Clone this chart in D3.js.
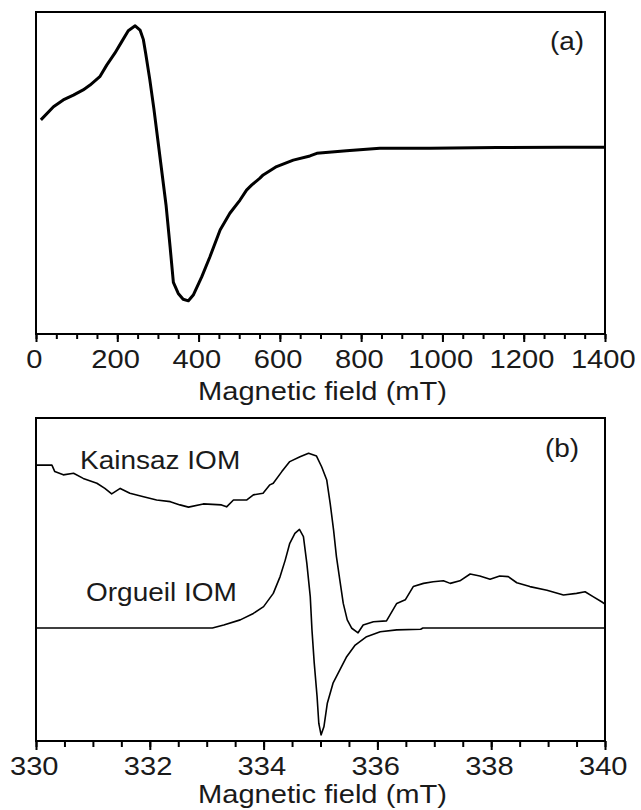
<!DOCTYPE html>
<html>
<head>
<meta charset="utf-8">
<script src="https://cdn.jsdelivr.net/npm/d3@7"></script>
<style>
  body { margin: 0; background: #fff; }
  svg { display: block; }
  text { font-family: "Liberation Sans", Arial, sans-serif; fill: #1a1a1a; }
</style>
</head>
<body>
<div id="svgOutput"></div>
<script>
// Panel (a): broad scan, field in mT, signal in arbitrary units
const fieldA = [12, 43, 67, 92, 116, 133, 157, 174, 194, 211, 227, 244, 256, 264, 270, 280, 290, 300, 310, 320, 330, 338, 350, 362, 375, 387, 408, 428, 453, 477, 502, 518, 531, 551, 559, 592, 633, 674, 691, 764, 846, 969, 1134, 1298, 1400];
const signalA = [66.5, 70.6, 72.7, 74.2, 75.8, 77.3, 79.9, 83.5, 87.2, 90.8, 94.2, 95.7, 94.4, 91.5, 87, 79, 70, 60, 50, 40, 27, 16, 12.6, 10.8, 10.3, 12.1, 17.8, 24.0, 32.3, 37.5, 41.6, 44.7, 46.3, 48.4, 49.4, 52.0, 54.0, 55.3, 56.1, 56.9, 57.7, 57.7, 57.9, 58.0, 58.0];

// Panel (b): narrow scan, two samples
const fieldKainsaz = [330.0, 330.28, 330.33, 330.48, 330.66, 330.83, 331.07, 331.21, 331.33, 331.48, 331.65, 331.89, 332.12, 332.36, 332.53, 332.68, 332.94, 333.26, 333.35, 333.47, 333.70, 333.82, 333.99, 334.11, 334.17, 334.32, 334.46, 334.64, 334.79, 334.93, 335.02, 335.11, 335.17, 335.23, 335.28, 335.34, 335.40, 335.47, 335.55, 335.66, 335.75, 335.93, 336.16, 336.34, 336.49, 336.63, 336.81, 336.98, 337.16, 337.28, 337.45, 337.63, 337.80, 337.98, 338.15, 338.30, 338.45, 338.68, 338.98, 339.27, 339.50, 339.65, 339.79, 339.94, 340.0];
const signalKainsaz = [85.4, 85.4, 83.4, 82.4, 82.9, 81.3, 79.8, 78.2, 76.5, 78.2, 76.7, 75.6, 74.6, 74.1, 73.1, 72.4, 73.4, 73.1, 72.5, 74.6, 74.6, 76.2, 76.7, 79.3, 79.8, 83.4, 86.5, 88.0, 89.1, 88.2, 84.9, 80.8, 73.6, 65.3, 57.1, 49.8, 42.6, 37.5, 34.9, 33.5, 35.9, 36.9, 37.2, 42.6, 43.7, 47.8, 48.8, 49.3, 49.6, 48.8, 49.6, 51.7, 51.1, 50.1, 51.1, 50.9, 49.0, 47.8, 46.7, 45.2, 45.7, 46.2, 44.7, 43.1, 42.4];

const fieldOrgueil = [330.0, 333.1, 333.3, 333.59, 333.82, 334.0, 334.17, 334.29, 334.38, 334.46, 334.55, 334.63, 334.70, 334.76, 334.82, 334.85, 334.89, 334.94, 334.97, 335.01, 335.06, 335.12, 335.22, 335.34, 335.46, 335.61, 335.81, 336.05, 336.34, 336.76, 336.8, 340.0];
const signalOrgueil = [35.0, 35.0, 35.9, 37.5, 39.5, 41.6, 45.7, 50.9, 56.0, 61.2, 64.3, 65.5, 63.3, 55.0, 44.7, 34.4, 24.1, 13.7, 5.5, 1.9, 4.4, 11.7, 17.9, 22.0, 26.1, 29.7, 32.3, 33.8, 34.4, 34.6, 35.0, 35.0];

// Tick labels
const ticksA = [0, 200, 400, 600, 800, 1000, 1200, 1400];
const ticksB = [330, 332, 334, 336, 338, 340];

(function () {
  document.addEventListener('DOMContentLoaded', function () {

    // Config

    const width = 641;
    const height = 810;
    const stretch = 1.12;   // reference text is a bit wider than Arial
    const fontSize = 26;

    const panelA = { left: 36, right: 605, top: 12, bottom: 334 };
    const panelB = { left: 36, right: 605, top: 418, bottom: 741 };

    const svg = d3.select("#svgOutput")
      .append("svg")
      .attr("width", width)
      .attr("height", height)
      .attr("viewBox", [0, 0, width, height]);

    function stretchedText(x, y, str, anchor, size) {
      svg.append("text")
        .attr("transform", `translate(${x},${y}) scale(${stretch},1)`)
        .attr("text-anchor", anchor)
        .attr("font-size", size)
        .text(str);
    }

    // Draw one panel: frame, major + minor ticks, title, curves

    function drawPanel(p, domain, majorTicks, minorStep, majorLen, minorLen, titleY, series) {
      const x = d3.scaleLinear().domain(domain).range([p.left, p.right]);
      const y = d3.scaleLinear().domain([0, 100]).range([p.bottom, p.top]);

      const minorTicks = d3.range(domain[0], domain[1] + minorStep / 2, minorStep);

      svg.append("g")
        .attr("transform", `translate(0,${p.bottom})`)
        .call(d3.axisBottom(x).tickValues(minorTicks).tickSize(minorLen).tickSizeOuter(0).tickFormat(""))
        .call(g => g.select(".domain").remove())
        .call(g => g.selectAll(".tick line").attr("stroke", "#000").attr("stroke-width", 2));

      const gx = svg.append("g")
        .attr("transform", `translate(0,${p.bottom})`)
        .call(d3.axisBottom(x).tickValues(majorTicks).tickSize(majorLen).tickSizeOuter(0).tickFormat(d3.format("d")));

      gx.select(".domain").remove();
      gx.selectAll(".tick line").attr("stroke", "#000").attr("stroke-width", 2);
      gx.selectAll(".tick text")
        .attr("y", 34)
        .attr("dy", null)
        .attr("x", -2)
        .attr("font-size", fontSize)
        .attr("font-family", null)
        .attr("fill", "#1a1a1a")
        .attr("transform", `scale(${stretch},1)`);

      svg.append("rect")
        .attr("x", p.left)
        .attr("y", p.top)
        .attr("width", p.right - p.left)
        .attr("height", p.bottom - p.top)
        .attr("fill", "none")
        .attr("stroke", "#000")
        .attr("stroke-width", 2);

      stretchedText((p.left + p.right) / 2 + 2, titleY, "Magnetic field (mT)", "middle", fontSize);

      const line = d3.line()
        .x(d => x(d[0]))
        .y(d => y(d[1]));

      series.forEach(s => {
        svg.append("path")
          .datum(d3.zip(s.xs, s.ys))
          .attr("fill", "none")
          .attr("stroke", "#000")
          .attr("stroke-width", s.width)
          .attr("stroke-linejoin", "round")
          .attr("d", line);
      });
    }

    drawPanel(panelA, [0, 1400], ticksA, 50, 8, 5, 400, [
      { xs: fieldA, ys: signalA, width: 3 }
    ]);

    drawPanel(panelB, [330, 340], ticksB, 0.5, 9, 6, 803, [
      { xs: fieldKainsaz, ys: signalKainsaz, width: 1.6 },
      { xs: fieldOrgueil, ys: signalOrgueil, width: 1.6 }
    ]);

    // Panel labels

    stretchedText(567, 50, "(a)", "middle", 25);
    stretchedText(562, 457, "(b)", "middle", 25);
    stretchedText(80, 469, "Kainsaz IOM", "start", 25);
    stretchedText(86, 601, "Orgueil IOM", "start", 25);

  });
})();
</script>
</body>
</html>
